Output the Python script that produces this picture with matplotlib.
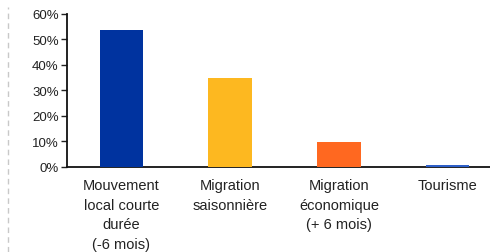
import matplotlib.pyplot as plt
from matplotlib.lines import Line2D
from matplotlib.ticker import PercentFormatter

categories = ['Mouvement\nlocal courte\ndurée\n(-6 mois)', 'Migration\nsaisonnière',
              'Migration\néconomique\n(+ 6 mois)', 'Tourisme']
values = [0.537, 0.35, 0.098, 0.008]
colors = ['#00339F', '#FDB820', '#FF6820', '#2E5FC8']

plt.rcParams['font.family'] = ['Liberation Sans', 'DejaVu Sans']

fig = plt.figure(figsize=(4.9, 2.53), dpi=100)
ax = fig.add_axes([0.137, 0.336, 0.863, 0.605])

ax.bar(range(len(values)), values, width=0.4, color=colors, zorder=3)

ax.set_ylim(0, 0.6)
ax.set_xlim(-0.5, 3.39)
ax.set_yticks([0, 0.1, 0.2, 0.3, 0.4, 0.5, 0.6])
ax.yaxis.set_major_formatter(PercentFormatter(1.0, decimals=0))
ax.tick_params(axis='y', labelsize=9.5, length=4, width=1, pad=2, colors='#222222')
ax.set_xticks(range(len(categories)))
ax.set_xticklabels(categories, fontsize=10.5, linespacing=1.5, color='#222222')
ax.tick_params(axis='x', length=0, pad=8)

for side in ['top', 'right']:
    ax.spines[side].set_visible(False)
for side in ['left', 'bottom']:
    ax.spines[side].set_linewidth(1.3)
    ax.spines[side].set_color('#111111')

# grey dashed separator on the left edge
fig.add_artist(Line2D([0.017, 0.017], [0.0, 0.97], transform=fig.transFigure,
                      color='#C8C8C8', linestyle=(0, (4, 3)), linewidth=1))

fig.savefig('out.png', dpi=100)
